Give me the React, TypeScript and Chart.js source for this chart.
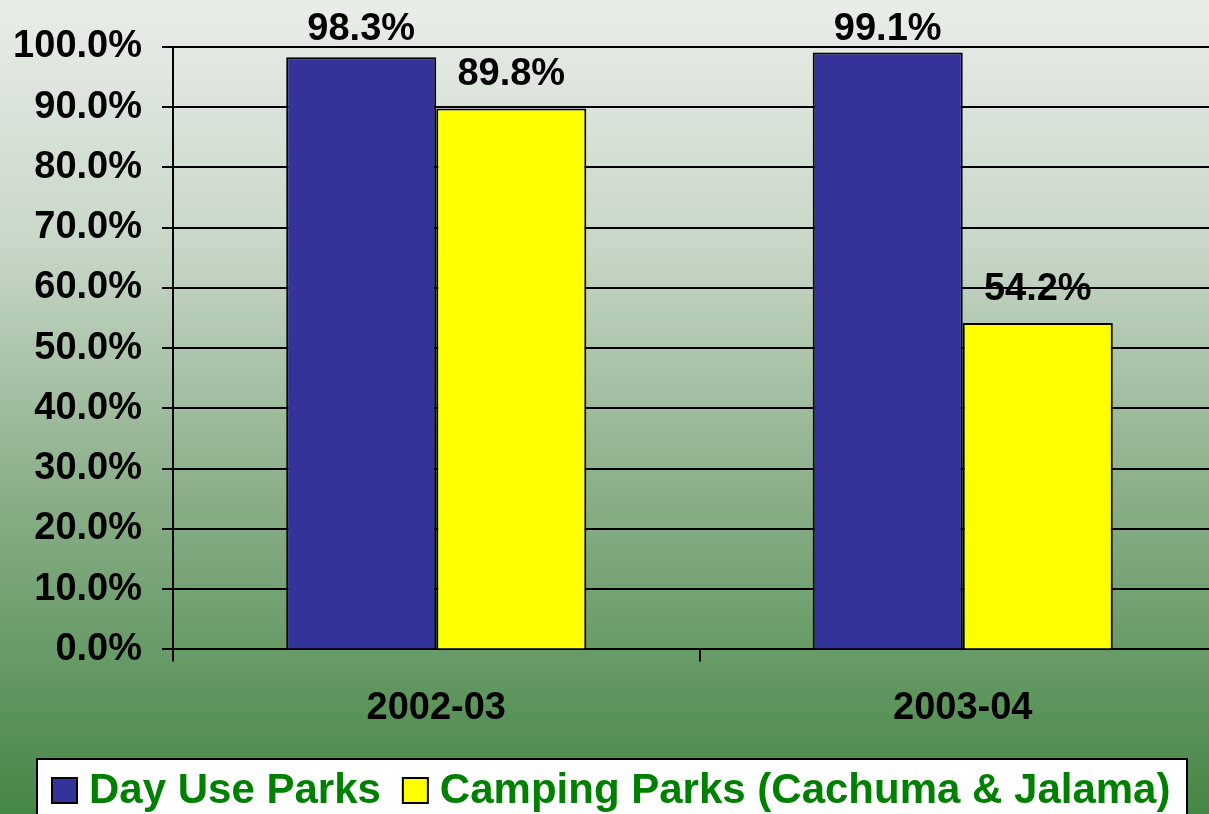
import React, { useEffect, useRef } from "react";
import { Chart, registerables } from "chart.js";

Chart.register(...registerables);

const categories = ["2002-03", "2003-04"];
const dayUseValues = [98.3, 99.1];
const campingValues = [89.8, 54.2];
const seriesNames = ["Day Use Parks", "Camping Parks (Cachuma & Jalama)"];
const seriesColors = ["#333399", "#FFFF00"];

const FONT = "Arial, 'Liberation Sans', sans-serif";

const bgPlugin = {
  id: "bg",
  beforeDraw(chart: any) {
    const { ctx, width, height } = chart;
    const g = ctx.createLinearGradient(0, 0, 0, height);
    g.addColorStop(0, "rgb(233,237,232)");
    g.addColorStop(0.3, "rgb(200,215,200)");
    g.addColorStop(0.6, "rgb(140,175,138)");
    g.addColorStop(0.85, "rgb(95,150,95)");
    g.addColorStop(1, "rgb(70,135,70)");
    ctx.save();
    ctx.fillStyle = g;
    ctx.fillRect(0, 0, width, height);
    ctx.restore();
  },
};

const labelPlugin = {
  id: "vlabels",
  afterDatasetsDraw(chart: any) {
    const { ctx } = chart;
    ctx.save();
    ctx.font = `bold 38px ${FONT}`;
    ctx.fillStyle = "#000";
    ctx.textAlign = "center";
    ctx.textBaseline = "alphabetic";
    chart.data.datasets.forEach((ds: any, i: number) => {
      const meta = chart.getDatasetMeta(i);
      meta.data.forEach((bar: any, j: number) => {
        const v = ds.data[j];
        const y = Math.max(40, bar.y - 23);
        ctx.fillText(v.toFixed(1) + "%", bar.x, y);
      });
    });
    ctx.restore();
  },
};

const legendPlugin = {
  id: "customLegend",
  afterDraw(chart: any) {
    const { ctx } = chart;
    ctx.save();
    const boxX = 37, boxY = 759, boxW = 1150, boxH = 70;
    ctx.fillStyle = "#fff";
    ctx.fillRect(boxX, boxY, boxW, boxH);
    ctx.strokeStyle = "#000";
    ctx.lineWidth = 2;
    ctx.strokeRect(boxX, boxY, boxW, boxH);
    ctx.font = `bold 42px ${FONT}`;
    ctx.textBaseline = "alphabetic";
    let x = 52;
    const sq = 25;
    const sqY = 778;
    const baseY = 803;
    seriesNames.forEach((name, i) => {
      ctx.fillStyle = seriesColors[i];
      ctx.fillRect(x, sqY, sq, sq);
      ctx.strokeStyle = "#000";
      ctx.lineWidth = 2;
      ctx.strokeRect(x, sqY, sq, sq);
      x += sq + 12;
      ctx.fillStyle = "#008000";
      ctx.fillText(name, x, baseY);
      x += ctx.measureText(name).width + 22;
    });
    ctx.restore();
  },
};

export default function App() {
  const ref = useRef<HTMLCanvasElement | null>(null);
  useEffect(() => {
    document.body.style.margin = "0";
    document.body.style.overflow = "hidden";
    const canvas = ref.current!;
    const chart = new Chart(canvas, {
      type: "bar",
      data: {
        labels: categories,
        datasets: [
          {
            label: seriesNames[0],
            data: dayUseValues,
            backgroundColor: seriesColors[0],
            borderColor: "#000",
            borderWidth: 2,
          },
          {
            label: seriesNames[1],
            data: campingValues,
            backgroundColor: seriesColors[1],
            borderColor: "#000",
            borderWidth: 2,
          },
        ],
      },
      options: {
        responsive: false,
        animation: false,
        devicePixelRatio: 1,
        layout: { padding: { left: 12, top: 47, right: 0, bottom: 59 } },
        datasets: {
          bar: { categoryPercentage: 0.57, barPercentage: 1 },
        },
        plugins: {
          legend: { display: false },
          tooltip: { enabled: false },
          title: { display: false },
        },
        scales: {
          x: {
            grid: {
              drawOnChartArea: false,
              drawTicks: true,
              tickLength: 12,
              color: "#000",
              lineWidth: 2,
              offset: true,
            },
            border: { display: true, color: "#000", width: 2 },
            ticks: {
              color: "#000",
              font: { family: FONT, size: 38, weight: "bold" },
              padding: 24,
            },
          },
          y: {
            min: 0,
            max: 100,
            afterFit: (scale: any) => {
              scale.width = 161;
            },
            ticks: {
              stepSize: 10,
              color: "#000",
              font: { family: FONT, size: 38, weight: "bold" },
              padding: 20,
              callback: (v: any) => Number(v).toFixed(1) + "%",
            },
            grid: {
              color: "#000",
              lineWidth: 2,
              tickLength: 11,
              drawTicks: true,
            },
            border: { display: true, color: "#000", width: 2 },
          },
        },
      },
      plugins: [bgPlugin, labelPlugin, legendPlugin],
    });
    return () => chart.destroy();
  }, []);
  return (
    <div
      style={{
        position: "absolute",
        left: 0,
        top: 0,
        width: 1209,
        height: 814,
        overflow: "hidden",
      }}
    >
      <canvas ref={ref} width={1226} height={814} style={{ display: "block" }} />
    </div>
  );
}
